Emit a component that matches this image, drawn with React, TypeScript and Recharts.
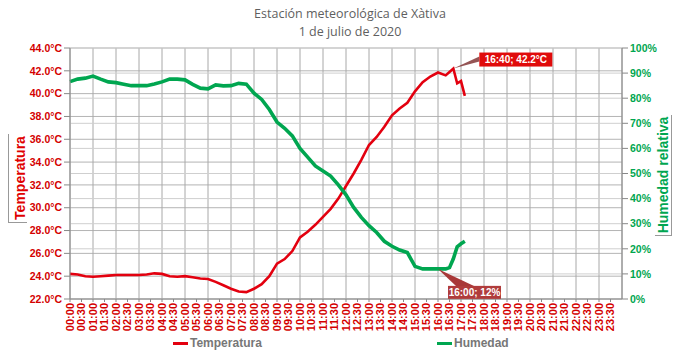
import { LineChart, Line, XAxis, YAxis, CartesianGrid, ReferenceDot } from 'recharts'

// minutes since midnight of each reading
const times = [
  0, 20, 40, 60, 80, 100, 120, 140, 160, 180, 200, 220, 240, 260, 280, 300, 320, 340, 360, 380,
  400, 420, 440, 460, 480, 500, 520, 540, 560, 580, 600, 620, 640, 660, 680, 700, 720, 740, 760,
  780, 800, 820, 840, 860, 880, 900, 920, 940, 960, 980, 990, 1000, 1010, 1020, 1030,
]

const temperatura = [
  24.2, 24.15, 24.0, 23.95, 24.0, 24.05, 24.1, 24.1, 24.1, 24.1, 24.15, 24.25, 24.2, 24.0, 23.95,
  24.0, 23.9, 23.8, 23.75, 23.5, 23.2, 22.9, 22.65, 22.6, 22.9, 23.3, 24.0, 25.1, 25.5, 26.2, 27.4,
  27.9, 28.5, 29.2, 29.9, 30.8, 31.9, 33.0, 34.2, 35.5, 36.2, 37.1, 38.1, 38.7, 39.2, 40.2, 41.0,
  41.5, 41.85, 41.6, 41.9, 42.2, 40.9, 41.1, 39.8,
]

const humedad = [
  86.6, 87.6, 88.0, 88.8, 87.6, 86.5, 86.2, 85.6, 85.0, 85.0, 85.0, 85.7, 86.5, 87.6, 87.6, 87.3,
  85.5, 84.0, 83.7, 85.3, 84.9, 85.0, 85.9, 85.6, 82.0, 79.5, 75.5, 70.5, 68.0, 65.0, 60.0, 56.5,
  53.0, 51.0, 49.0, 45.5, 41.5, 36.5, 32.5, 29.2, 26.5, 23.0, 21.0, 19.5, 18.5, 13.0, 12.0, 12.0,
  12.0, 12.0, 12.5, 16.0, 20.8, 22.0, 23.0,
]

const xTickLabels = [
  '00:00', '00:30', '01:00', '01:30', '02:00', '02:30', '03:00', '03:30', '04:00', '04:30',
  '05:00', '05:30', '06:00', '06:30', '07:00', '07:30', '08:00', '08:30', '09:00', '09:30',
  '10:00', '10:30', '11:00', '11:30', '12:00', '12:30', '13:00', '13:30', '14:00', '14:30',
  '15:00', '15:30', '16:00', '16:30', '17:00', '17:30', '18:00', '18:30', '19:00', '19:30',
  '20:00', '20:30', '21:00', '21:30', '22:00', '22:30', '23:00', '23:30',
]

const tempTicks = [22, 24, 26, 28, 30, 32, 34, 36, 38, 40, 42, 44]
const humTicks = [0, 10, 20, 30, 40, 50, 60, 70, 80, 90, 100]
const hourLines = [0, 60, 120, 180, 240, 300, 360, 420, 480, 540, 600, 660, 720, 780, 840, 900, 960, 1020, 1080, 1140, 1200, 1260, 1320, 1380, 1440]

const maxTemp = { time: 1000, value: 42.2, label: '16:40; 42.2°C' }
const minHum = { time: 960, value: 12, label: '16:00; 12%' }

const RED = '#e3000f'
const GREEN = '#00a650'
const FONT = '"Liberation Sans", Arial, sans-serif'

const toMinutes = (s: string) => {
  const [h, m] = s.split(':').map(Number)
  return h * 60 + m
}
const xTicks = xTickLabels.map(toMinutes)
const fmtTime = (v: number) => {
  const h = Math.floor(v / 60)
  const m = v % 60
  return `${String(h).padStart(2, '0')}:${String(m).padStart(2, '0')}`
}

const data = times.map((t, i) => ({ t, temp: temperatura[i], hum: humedad[i] }))

function XTick({ x, y, payload }: any) {
  return (
    <text
      x={x}
      y={y}
      transform={`rotate(-90 ${x} ${y})`}
      textAnchor="end"
      dy="0.36em"
      fill="#d40000"
      fontSize={11}
      fontWeight="bold"
      fontFamily={FONT}
    >
      {fmtTime(payload.value)}
    </text>
  )
}

function MaxTempMarker({ cx, cy }: any) {
  const bx = cx + 26
  const by = cy - 16
  return (
    <g>
      <polygon points={`${cx},${cy} ${bx},${by + 4} ${bx},${by + 9}`} fill="#7a2a2a" opacity={0.8} />
      <rect x={bx} y={by} width={73} height={14} fill="#e00b0b" />
      <text x={bx + 36.5} y={by + 10.5} textAnchor="middle" fill="#fff" fontSize={10} fontWeight="bold" fontFamily={FONT}>
        {maxTemp.label}
      </text>
    </g>
  )
}

function MinHumMarker({ cx, cy }: any) {
  const bx = cx + 10
  const by = cy + 17
  return (
    <g>
      <polygon points={`${cx},${cy} ${bx + 8},${by} ${bx + 26},${by}`} fill="#a83838" />
      <rect x={bx} y={by} width={53} height={13} fill="#b03c3c" />
      <text x={bx + 26.5} y={by + 10} textAnchor="middle" fill="#fff" fontSize={10} fontWeight="bold" fontFamily={FONT}>
        {minHum.label}
      </text>
    </g>
  )
}

export default function App() {
  const titleStyle = {
    position: 'absolute' as const,
    left: 150,
    width: 400,
    textAlign: 'center' as const,
    fontFamily: '"Open Sans", sans-serif',
    fontSize: 12.5,
    lineHeight: '14px',
    color: '#5f5f5f',
  }
  return (
    <div style={{ position: 'relative', width: 680, height: 352, background: '#fff', fontFamily: FONT }}>
      <style>{'body{margin:0}'}</style>

      <div style={{ ...titleStyle, top: 7 }}>Estación meteorológica de Xàtiva</div>
      <div style={{ ...titleStyle, top: 25 }}>1 de julio de 2020</div>

      <LineChart width={680} height={352} data={data} margin={{ top: 48, right: 0, bottom: 20, left: 0 }}>
        <CartesianGrid yAxisId="t" vertical={false} stroke="#b4b4b4" />
        <CartesianGrid yAxisId="h" horizontal={false} verticalValues={hourLines} stroke="#a8a8a8" />
        <CartesianGrid yAxisId="h" vertical={false} stroke="#cfcfcf" />
        <XAxis
          dataKey="t"
          type="number"
          domain={[0, 1440]}
          ticks={xTicks}
          interval={0}
          tick={<XTick />}
          tickSize={3}
          tickMargin={1}
          height={33}
          stroke="#888"
        />
        <YAxis
          yAxisId="t"
          domain={[22, 44]}
          ticks={tempTicks}
          interval={0}
          width={70}
          tickFormatter={(v: number) => `${v.toFixed(1)}°C`}
          tick={{ fill: '#d40000', fontSize: 10.5, fontWeight: 'bold', fontFamily: FONT }}
          stroke="#888"
        />
        <YAxis
          yAxisId="h"
          orientation="right"
          domain={[0, 100]}
          ticks={humTicks}
          interval={0}
          width={58}
          tickFormatter={(v: number) => `${v}%`}
          tick={{ fill: GREEN, fontSize: 10.5, fontWeight: 'bold', fontFamily: FONT, textAnchor: 'start' }}
          stroke="#888"
        />
        <Line yAxisId="t" type="linear" dataKey="temp" stroke={RED} strokeWidth={2.6} dot={false} isAnimationActive={false} />
        <Line yAxisId="h" type="linear" dataKey="hum" stroke={GREEN} strokeWidth={3.6} dot={false} isAnimationActive={false} />
        <ReferenceDot yAxisId="t" x={maxTemp.time} y={maxTemp.value} shape={<MaxTempMarker />} />
        <ReferenceDot yAxisId="h" x={minHum.time} y={minHum.value} shape={<MinHumMarker />} />
      </LineChart>

      <div
        style={{
          position: 'absolute',
          left: 8,
          top: 134,
          width: 18,
          height: 88,
          borderLeft: '1px solid #999',
          borderBottom: '1px solid #999',
          background: '#fff',
        }}
      >
        <div
          style={{
            position: 'absolute',
            left: 11,
            top: 44,
            transform: 'translate(-50%, -50%) rotate(-90deg)',
            whiteSpace: 'nowrap',
            color: '#e00000',
            fontWeight: 'bold',
            fontSize: 14,
          }}
        >
          Temperatura
        </div>
      </div>

      <div
        style={{
          position: 'absolute',
          left: 655,
          top: 115,
          width: 16,
          height: 120,
          borderRight: '1px solid #999',
          borderBottom: '1px solid #999',
          background: '#fff',
        }}
      >
        <div
          style={{
            position: 'absolute',
            left: 8,
            top: 60,
            transform: 'translate(-50%, -50%) rotate(-90deg)',
            whiteSpace: 'nowrap',
            color: GREEN,
            fontWeight: 'bold',
            fontSize: 14,
          }}
        >
          Humedad relativa
        </div>
      </div>

      <div style={{ position: 'absolute', top: 336, left: 173, display: 'flex', alignItems: 'center', color: '#777', fontWeight: 'bold', fontSize: 12 }}>
        <span style={{ display: 'inline-block', width: 15, height: 3, background: RED, marginRight: 2 }} />
        Temperatura
      </div>
      <div style={{ position: 'absolute', top: 336, left: 437, display: 'flex', alignItems: 'center', color: '#777', fontWeight: 'bold', fontSize: 12 }}>
        <span style={{ display: 'inline-block', width: 15, height: 3, background: GREEN, marginRight: 2 }} />
        Humedad
      </div>
    </div>
  )
}
